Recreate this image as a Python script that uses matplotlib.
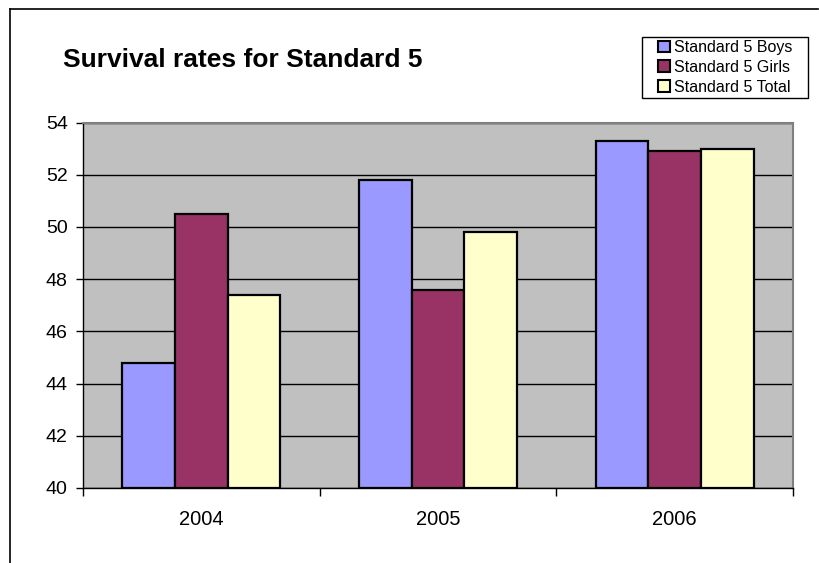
import matplotlib.pyplot as plt
from matplotlib.lines import Line2D
from matplotlib.patches import Patch, Rectangle
import numpy as np

plt.rcParams['font.family'] = ['Liberation Sans', 'DejaVu Sans']

years = ["2004", "2005", "2006"]
boys = [44.8, 51.8, 53.3]
girls = [50.5, 47.6, 52.9]
total = [47.4, 49.8, 53.0]
series_names = ["Standard 5 Boys", "Standard 5 Girls", "Standard 5 Total"]
colors = ["#9999FF", "#993366", "#FFFFCC"]

W, H = 819, 563
fig = plt.figure(figsize=(W / 100, H / 100), dpi=100)

# plot area in pixel coords
left, right, top, bottom = 83, 793, 122.5, 488
ax = fig.add_axes([left / W, 1 - bottom / H, (right - left) / W, (bottom - top) / H])
ax.set_facecolor("#C0C0C0")

x = np.arange(len(years))
bw = 1 / 4.5
for i, (vals, c) in enumerate(zip([boys, girls, total], colors)):
    ax.bar(x + (i - 1) * bw, [v - 40 for v in vals], bw, bottom=40, color=c,
           edgecolor="black", linewidth=1.6, zorder=3)

ax.set_xlim(-0.5, 2.5)
ax.set_ylim(40, 54)
ax.set_yticks(range(40, 55, 2))
ax.yaxis.grid(True, color="black", linewidth=1.0, zorder=1)
ax.set_axisbelow(True)

ax.set_xticks(x)
ax.set_xticklabels(years, fontsize=14.5)
ax.set_xticks([-0.5, 0.5, 1.5, 2.5], minor=True)
ax.tick_params(axis="x", which="major", length=0, pad=16)
ax.tick_params(axis="x", which="minor", length=6, width=1, color="black")
ax.tick_params(axis="y", length=5, width=1, labelsize=14, pad=6)

for s in ["top", "right"]:
    ax.spines[s].set_color("#808080")
    ax.spines[s].set_linewidth(1.5)
for s in ["left", "bottom"]:
    ax.spines[s].set_color("black")
    ax.spines[s].set_linewidth(1.0)

fig.text(63 / W, 1 - 60 / H, "Survival rates for Standard 5", fontsize=19,
         fontweight="bold", va="center", ha="left")

# legend box drawn separately so it can be wider than the entries
fig.add_artist(Rectangle((642 / W, 1 - 98 / H), 166 / W, 61 / H, facecolor="white",
                         edgecolor="black", linewidth=1.0, transform=fig.transFigure))
handles = [Patch(facecolor=c, edgecolor="black", linewidth=1.5) for c in colors]
leg = fig.legend(handles, series_names, loc="upper left",
                 bbox_to_anchor=(658 / W, 1 - 40 / H), fontsize=11.5,
                 frameon=False,
                 handlelength=0.75, handleheight=0.75, handletextpad=0.25,
                 labelspacing=0.3, borderpad=0, borderaxespad=0)

# outer chart border (top and left only, rest is cropped)
fig.add_artist(Line2D([10 / W, 818 / W], [1 - 9 / H, 1 - 9 / H], color="black",
                      linewidth=1.2, transform=fig.transFigure))
fig.add_artist(Line2D([10 / W, 10 / W], [1 - 9 / H, 0], color="black",
                      linewidth=1.2, transform=fig.transFigure))

fig.savefig("out.png", dpi=100)
